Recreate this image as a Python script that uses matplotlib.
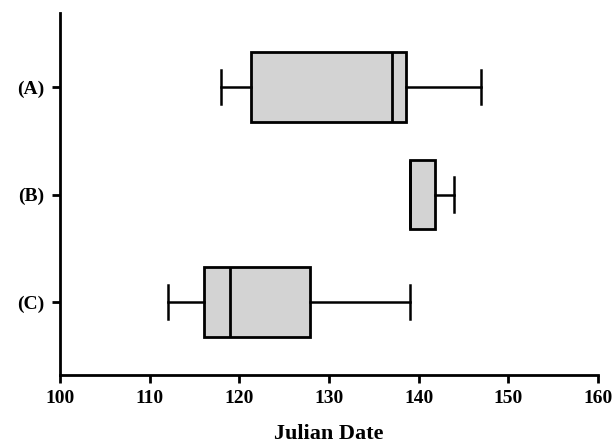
import matplotlib
matplotlib.use("Agg")
from matplotlib import pyplot as plt

plt.rcParams['font.family'] = ['Liberation Serif', 'DejaVu Serif']
plt.rcParams['font.weight'] = 'bold'

labels = ['(A)', '(B)', '(C)']
whislo = [118, 139, 112]
q1 = [121.3, 139, 116.1]
med = [137, 139, 119]
q3 = [138.6, 141.8, 127.9]
whishi = [147, 144, 139]
positions = [3, 2, 1]

stats = []
for i in range(len(labels)):
    stats.append(dict(label=labels[i], whislo=whislo[i], q1=q1[i], med=med[i],
                      q3=q3[i], whishi=whishi[i], fliers=[]))

fig = plt.figure(figsize=(6.14, 4.43), dpi=100)
ax = fig.add_axes([0.0977, 0.1535, 0.876, 0.817])

ax.bxp(stats, positions=positions, vert=False, widths=0.65, patch_artist=True,
       boxprops=dict(facecolor='#d3d3d3', edgecolor='black', linewidth=2),
       medianprops=dict(color='black', linewidth=2),
       whiskerprops=dict(color='black', linewidth=1.8),
       capprops=dict(color='black', linewidth=1.8),
       capwidths=0.32, showfliers=False)

ax.set_xlim(100, 160)
ax.set_ylim(0.32, 3.69)
ax.set_xticks([100, 110, 120, 130, 140, 150, 160])
ax.set_yticks(positions)
ax.set_yticklabels(labels)
ax.set_xlabel('Julian Date', fontsize=16, fontweight='bold', labelpad=12)

for s in ['top', 'right']:
    ax.spines[s].set_visible(False)
for s in ['left', 'bottom']:
    ax.spines[s].set_linewidth(2)
ax.tick_params(direction='out', length=6, width=2, labelsize=14, pad=5)
for t in ax.get_xticklabels() + ax.get_yticklabels():
    t.set_fontweight('bold')

fig.savefig('out.png', dpi=100)
